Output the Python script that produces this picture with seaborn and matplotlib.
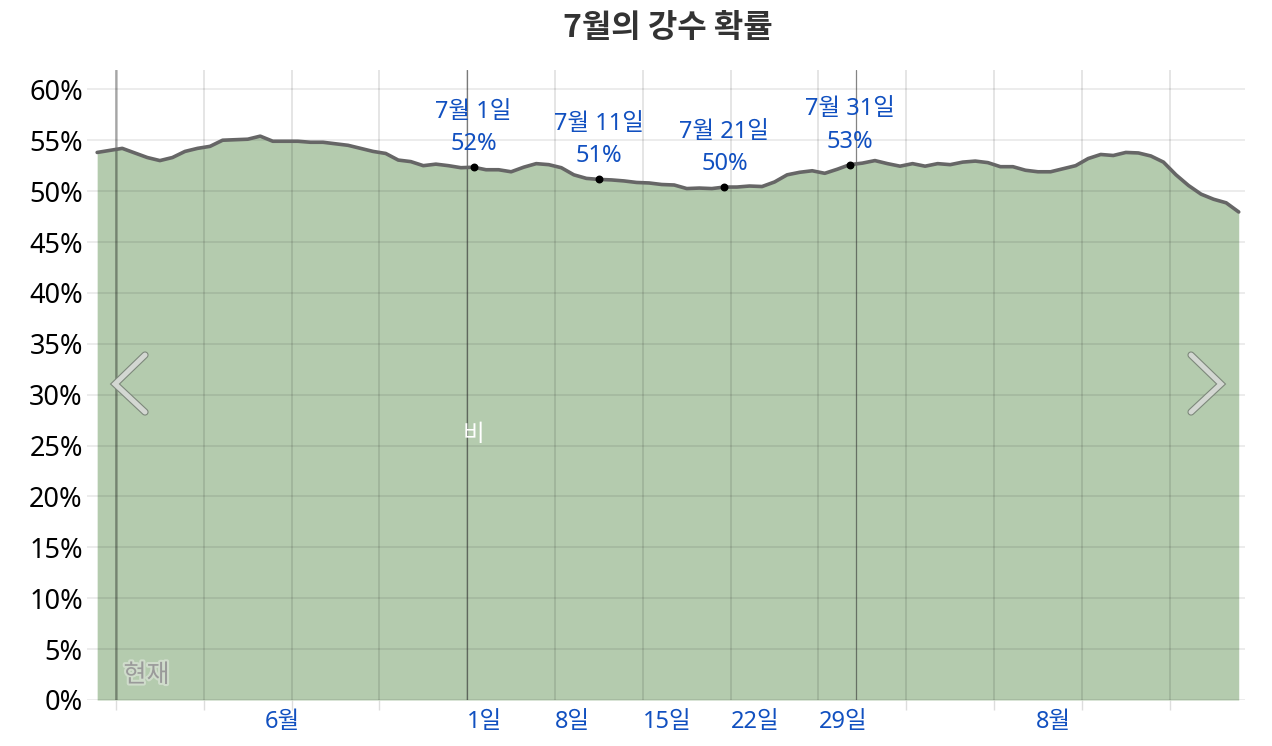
import numpy as np
import pandas as pd
import seaborn as sns
import matplotlib
matplotlib.use("Agg")
import matplotlib.pyplot as plt
import matplotlib.patheffects as pe

# daily chance of rain (%), 1 June .. 31 August
rain_prob = [53.8, 54.0, 54.2, 53.75, 53.3, 53.0, 53.3, 53.9, 54.2, 54.4,
             55.0, 55.05, 55.1, 55.4, 54.9, 54.9, 54.9, 54.8, 54.8, 54.65,
             54.5, 54.2, 53.9, 53.7, 53.05, 52.9, 52.5, 52.65, 52.5, 52.3,
             52.35, 52.1, 52.1, 51.9, 52.35, 52.7, 52.6, 52.3, 51.6, 51.25,
             51.15, 51.1, 51.0, 50.85, 50.8, 50.65, 50.6, 50.25, 50.3, 50.25,
             50.4, 50.4, 50.5, 50.45, 50.9, 51.6, 51.85, 52.0, 51.75, 52.15,
             52.6, 52.75, 53.0, 52.7, 52.45, 52.7, 52.45, 52.7, 52.6, 52.85,
             52.95, 52.8, 52.4, 52.4, 52.05, 51.9, 51.9, 52.2, 52.5, 53.2,
             53.6, 53.5, 53.8, 53.75, 53.45, 52.85, 51.6, 50.55, 49.7, 49.2,
             48.85, 47.95]
days = np.arange(len(rain_prob))  # 0 = 6월 1일

# marked days (index) and their labels
mark_days = [30, 40, 50, 60]
mark_names = ["7월 1일", "7월 11일", "7월 21일", "7월 31일"]

# week boundaries (start of 3 Jun, 10 Jun, ...) and bottom labels
week_lines = [1.5 + 7 * k for k in range(13)]
now_day = 1.5
month_starts = [29.5, 60.5]
xlabel_pos = [14.8, 29.5, 36.5, 43.5, 50.5, 57.5, 76.2]
xlabel_txt = ["6월", "1일", "8일", "15일", "22일", "29일", "8월"]
xlabel_ha = ["center", "left", "left", "left", "left", "left", "center"]
yticks = list(range(0, 61, 5))

sns.set_theme(style="white")
plt.rcParams['font.family'] = ['Noto Sans', 'Noto Sans CJK KR', 'DejaVu Sans']

blue = "#1150c0"
df = pd.DataFrame({"day": days, "prob": rain_prob})

fig = plt.figure(figsize=(12.72, 7.46), dpi=100)
ax = fig.add_axes([87 / 1272, 46 / 746, 1158 / 1272, 630 / 746])

ax.fill_between(df["day"], 0, df["prob"], color="#b4cbae", lw=0, zorder=1)
sns.lineplot(data=df, x="day", y="prob", ax=ax, color="#666666", lw=2.6, zorder=5)

# grid
for y in yticks:
    ax.axhline(y, color="black", alpha=0.09, lw=1.2, zorder=3)
for x in week_lines:
    ax.axvline(x, color="black", alpha=0.12, lw=1.2, zorder=3)
ax.axvline(now_day, color="black", alpha=0.28, lw=1.8, zorder=3)
for x in month_starts:
    ax.axvline(x, color="#333333", alpha=0.6, lw=0.9, zorder=3)

# marked points
mv = [rain_prob[d] for d in mark_days]
ax.scatter(mark_days, mv, s=22, color="black", zorder=6)
for d, v, name in zip(mark_days, mv, mark_names):
    ax.annotate(f"{name}\n{v:.0f}%", (d, v), xytext=(0, 8), textcoords="offset points",
                ha="center", va="bottom", color=blue, fontsize=17, linespacing=1.45,
                zorder=7)

ax.text(30, 26, "비", color="white", fontsize=17, ha="center", va="center", zorder=6)
ax.text(2.1, 2.4, "현재", color="#9a9a9a", fontsize=18, ha="left", va="center", zorder=6,
        path_effects=[pe.withStroke(linewidth=3, foreground="#cfdccb")])

# navigation chevrons
for xs in ([0.0501, 0.0242, 0.0501], [0.9534, 0.9793, 0.9534]):
    ax.plot(xs, [0.5476, 0.5016, 0.4571], transform=ax.transAxes, color="#d3d7d2",
            lw=3.6, solid_capstyle="round", solid_joinstyle="miter", zorder=8, clip_on=False,
            path_effects=[pe.Stroke(linewidth=5.2, foreground="#7d887b"), pe.Normal()])

ax.set_xlim(-0.81, 91.5)
ax.set_ylim(0, 61.9)
ax.set_yticks(yticks, [f"{y}%" for y in yticks])
ax.set_xticks(xlabel_pos, xlabel_txt)
for lab, ha in zip(ax.get_xticklabels(), xlabel_ha):
    lab.set_ha(ha)
ax.set_xticks(week_lines, minor=True)
ax.tick_params(axis="x", which="major", length=0, pad=7, labelsize=17, labelcolor=blue)
ax.tick_params(axis="x", which="minor", length=7, width=1, color="#dddddd", bottom=True)
ax.tick_params(axis="y", length=0, pad=3, labelsize=19.5, labelcolor="black")
ax.set_xlabel("")
ax.set_ylabel("")
for s in ax.spines.values():
    s.set_visible(False)

fig.text(668 / 1272, 1 - 28 / 746, "7월의 강수 확률", ha="center", va="center",
         fontsize=23, color="#333333", fontweight="bold",
         family=['Noto Sans CJK KR', 'DejaVu Sans'])

fig.savefig("out.png", dpi=100)
